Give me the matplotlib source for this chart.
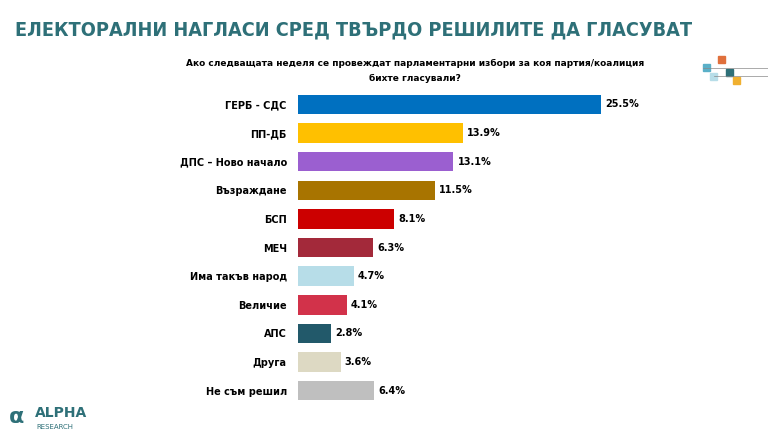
import matplotlib
matplotlib.use("Agg")
import matplotlib.pyplot as plt
from matplotlib.patches import Rectangle

parties = ["ГЕРБ - СДС", "ПП-ДБ", "ДПС – Ново начало", "Възраждане", "БСП", "МЕЧ",
           "Има такъв народ", "Величие", "АПС", "Друга", "Не съм решил"]
values = [25.5, 13.9, 13.1, 11.5, 8.1, 6.3, 4.7, 4.1, 2.8, 3.6, 6.4]
colors = ["#0070c0", "#ffc000", "#9b5fd0", "#a87400", "#cc0000", "#a3293a",
          "#b7dde8", "#d2324a", "#22596a", "#ddd9c3", "#bfbfbf"]

fig = plt.figure(figsize=(7.68, 4.32), dpi=100)
fig.patch.set_facecolor("white")
ax = fig.add_axes([0.388, 0.0625, 0.541, 0.729])
y = list(range(len(parties)))
ax.barh(y, values, color=colors, height=0.68)
ax.set_ylim(len(parties) - 0.5, -0.5)
ax.set_xlim(0, 35)
ax.set_yticks(y)
ax.set_yticklabels(parties, fontsize=7, fontweight="bold")
ax.tick_params(axis="y", length=0, pad=8)
ax.set_xticks([])
for s in ax.spines.values():
    s.set_visible(False)
for i, v in enumerate(values):
    ax.text(v + 0.35, i, f"{v}%", va="center", ha="left", fontsize=7, fontweight="bold")

fig.text(0.02, 0.93, "ЕЛЕКТОРАЛНИ НАГЛАСИ СРЕД ТВЪРДО РЕШИЛИТЕ ДА ГЛАСУВАТ",
         ha="left", va="center", fontsize=14.2, fontweight="bold", color="#2e7078",
         family="DejaVu Sans", stretch="condensed")
fig.text(0.54, 0.835, "Ако следващата неделя се провеждат парламентарни избори за коя партия/коалиция\nбихте гласували?",
         ha="center", va="center", fontsize=6.5, fontweight="bold", linespacing=1.8)

# decorative squares top right
for (x, yy, c) in [(0.935, 0.855, "#e0703c"), (0.915, 0.835, "#5ab0c8"), (0.945, 0.825, "#2e7078"),
                   (0.955, 0.805, "#f0b030"), (0.925, 0.815, "#b7dde8")]:
    fig.add_artist(Rectangle((x, yy), 0.009, 0.016, color=c, transform=fig.transFigure))
fig.add_artist(plt.Line2D([0.915, 1.0], [0.843, 0.843], color="#888888", lw=0.5, transform=fig.transFigure))
fig.add_artist(plt.Line2D([0.93, 1.0], [0.823, 0.823], color="#888888", lw=0.5, transform=fig.transFigure))

# logo
fig.text(0.012, 0.035, "α", fontsize=16, fontweight="bold", color="#2e7078", va="center")
fig.text(0.045, 0.045, "ALPHA", fontsize=10, fontweight="bold", color="#2e7078", va="center")
fig.text(0.048, 0.012, "RESEARCH", fontsize=5, color="#2e7078", va="center")

fig.savefig("out.png", dpi=100)
